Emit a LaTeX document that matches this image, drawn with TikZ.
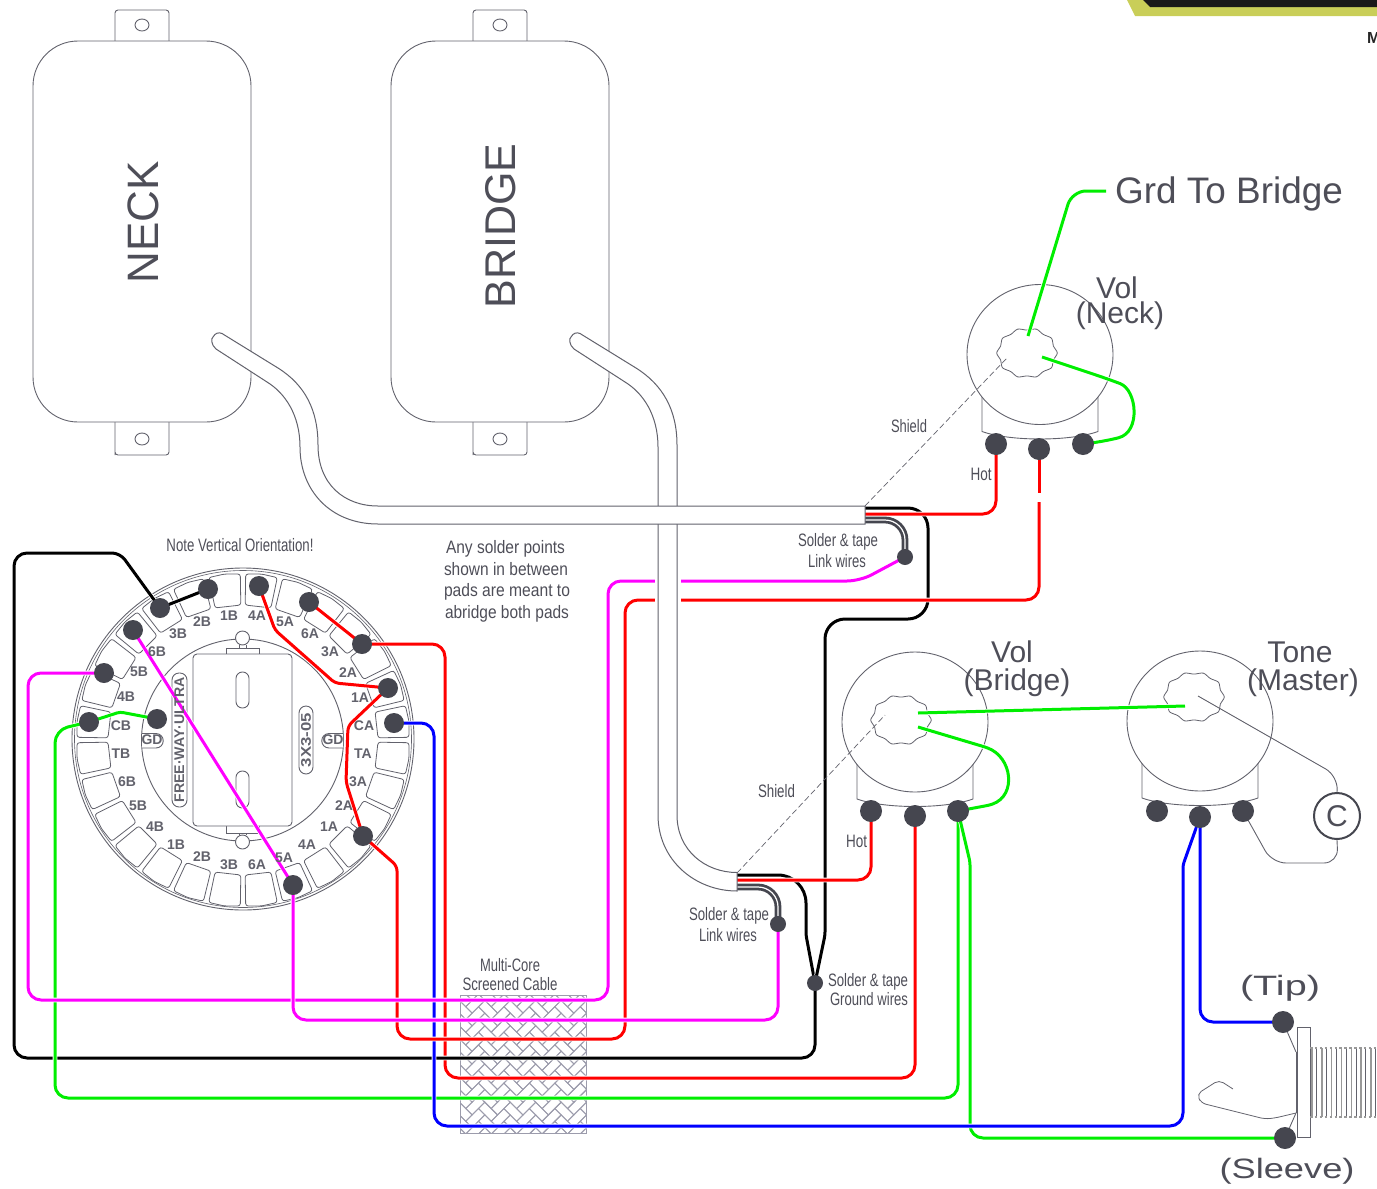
\documentclass[tikz,border=0pt]{standalone}
\usepackage{fontspec}
\setmainfont{Liberation Sans}
\pgfdeclarelayer{bg}\pgfdeclarelayer{cab}\pgfdeclarelayer{fg}
\pgfsetlayers{bg,main,cab,fg}
\definecolor{ink}{HTML}{45464F}
\definecolor{txt}{HTML}{4E4E58}
\definecolor{lne}{HTML}{62626C}
\definecolor{hat}{HTML}{9C9CAC}
\definecolor{mag}{HTML}{FF00FF}
\definecolor{grn}{HTML}{00EE00}
\definecolor{blu}{HTML}{0000FF}
\definecolor{redw}{HTML}{FF0000}
\definecolor{oliv}{HTML}{C9CE58}
\newcommand\fsz[1]{\fontsize{#1}{#1}\selectfont}
\newcommand\fitw[2]{\resizebox{#1pt}{\height}{#2}}
\tikzset{
  dotn/.style={circle,fill=ink,inner sep=0pt,minimum size=22pt},
  dotsw/.style={circle,fill=ink,inner sep=0pt,minimum size=20pt},
  dotsm/.style={circle,fill=ink,inner sep=0pt,minimum size=16pt},
  wire/.style={line width=3pt,rounded corners=13pt,line join=round,preaction={draw=white,line width=4.6pt,rounded corners=13pt}},
  outl/.style={draw=lne,line width=0.9pt},
  cableb/.style={draw=lne,fill=white,line width=1pt},
  linkw/.style={draw=ink,line width=2.8pt,double=white,double distance=1.2pt,rounded corners=20pt},
  thinw/.style={draw=lne,line width=0.9pt,rounded corners=14pt},
  shieldw/.style={draw=lne,line width=0.7pt,dash pattern=on 6pt off 3pt},
  lab/.style={text=txt,inner sep=0pt,font=\fsz{18}},
  big/.style={text=txt,inner sep=0pt,font=\fsz{30}},
  sw/.style={text=lne,inner sep=0pt,font=\fsz{14}\bfseries},
  padn/.style={draw=lne,line width=0.8pt,rounded corners=2.5pt},
}
\newcommand\blob[2]{\draw[draw=lne,line width=0.8pt,fill=white] plot[smooth cycle,domain=0:342,samples=20] ({#1+29*cos(\x)*(1+0.045*cos(10*\x))},{#2+24*sin(\x)*(1+0.045*cos(10*\x))});}
\newcommand\potbody[2]{%
  \draw[outl] (#1-58,#2+40) -- (#1-58,#2+77) .. controls (#1-30,#2+87) and (#1+30,#2+87) .. (#1+58,#2+77) -- (#1+58,#2+40);
  \draw[outl,fill=white] (#1,#2) ellipse[x radius=73,y radius=70];}
\begin{document}
\begin{tikzpicture}[x=1pt,y=-1pt]
\useasboundingbox (0,0) rectangle (1377,1189);

% ---------- named ends
\coordinate (cnB) at (865,508);
\coordinate (cnR) at (865,514);
\coordinate (cnL) at (865,520);
\coordinate (cbB) at (737,875);
\coordinate (cbR) at (737,880);
\coordinate (cbL) at (737,887);
\coordinate (grd) at (1106,191);
\coordinate (neckwA) at (1028,336);
\coordinate (neckwB) at (1042,357);
\coordinate (brwA) at (918,713);
\coordinate (brwB) at (918,727);
\coordinate (tonewA) at (1185,706);
\coordinate (tonewB) at (1198,696);
\coordinate (shN) at (1008,357);
\coordinate (shB) at (885,715);
\coordinate (shNs) at (865,506);
\coordinate (shBs) at (737,873);

% ---------- dots
\begin{pgfonlayer}{fg}
\foreach \n/\x/\y in {s1/160/608,s2/208/589,s3/259/586,s4/309/602,s5/362/644,s6/388/688,s7/394/723,s8/363/836,s9/293/885,s10/133/630,s11/104/673,s12/89/722,s13/157/719}
  \node[dotsw] (\n) at (\x,\y) {};
\foreach \n/\x/\y in {nA/996/444,nB/1039/449,nC/1083/444,bA/871/811,bB/915/816,bC/958/811,tA/1157/811,tB/1200/817,tC/1243/811,jT/1283/1022,jS/1285/1138}
  \node[dotn] (\n) at (\x,\y) {};
\node[dotsm] (lnk1) at (905,557) {};
\node[dotsm] (lnk2) at (778,924) {};
\node[dotsm] (gnd) at (815,983) {};
\end{pgfonlayer}

% ---------- background drawing
\begin{pgfonlayer}{bg}
% logo fragment
\begin{scope}
\clip (0,0) rectangle (1377,1189);
\fill[oliv] (1127,0) -- (1135,16) -- (1377,16) -- (1377,0) -- cycle;
\fill[black!90] (1143,0) -- (1150,7) -- (1377,7) -- (1377,0) -- cycle;
\node[anchor=west,inner sep=0pt,font=\fsz{16}\bfseries,text=black!85] (logoM) at (1367,38) {M};
\end{scope}
% pickups
\foreach \px in {0,358}{
  \draw[outl,fill=white] (115+\px,41) -- (115+\px,14) [rounded corners=3pt] -- (115+\px,10) -- (169+\px,10) [sharp corners] -- (169+\px,41);
  \draw[outl,fill=white] (115+\px,422) -- (115+\px,455) [rounded corners=3pt] -- (115+\px,455) -- (169+\px,455) [sharp corners] -- (169+\px,422);
  \draw[outl] (142+\px,25) ellipse[x radius=7,y radius=6];
  \draw[outl] (142+\px,439) ellipse[x radius=7,y radius=6];
  \draw[outl,fill=white,rounded corners=45pt] (33+\px,41) rectangle (251+\px,422);
}
% switch
\draw[outl,fill=white] (243,739) circle[radius=171];
\draw[draw=lne,line width=0.6pt] (243,739) circle[radius=168.5];
\begin{scope}[shift={(243,740)}]
\foreach \k in {0,...,27}{
  \pgfmathsetmacro\a{6.43+12.857*\k}
  \pgfmathsetmacro\aL{\a-5.5}
  \pgfmathsetmacro\aR{\a+5.5}
  \draw[padn] (\aL:135) -- (\aL:166) -- (\a:167) -- (\aR:166) -- (\aR:135) -- cycle;
}
\end{scope}
\draw[outl] (242.5,740) circle[radius=101];
\draw[outl,fill=white] (242.5,638) circle[radius=7];
\draw[outl,fill=white] (242.5,842) circle[radius=7];
\draw[outl] (239,645) -- (239,648) (246,645) -- (246,648) (239,835) -- (239,833) (246,835) -- (246,833);
\draw[outl,fill=white] (226,654) -- (226,648) -- (259,648) -- (259,654);
\draw[outl,fill=white] (226,826) -- (226,833) -- (259,833) -- (259,826);
\draw[outl,fill=white,rounded corners=4pt] (193,654) rectangle (292,826);
\draw[outl,rounded corners=6.4pt] (236,672) rectangle (249,708);
\draw[outl,rounded corners=6.4pt] (236,771) rectangle (249,808);
\draw[outl,rounded corners=7pt] (172,673) rectangle (187,807);
\draw[outl,rounded corners=7pt] (299,706) rectangle (313,774);
\draw[outl,fill=white] (142,733.5) -- (156,733.5) arc[start angle=-90,end angle=90,radius=7.25] -- (142,748);
\draw[outl,fill=white] (343,733.5) -- (329,733.5) arc[start angle=270,end angle=90,radius=7.25] -- (343,748);
% pots
\potbody{1040}{354.5}
\potbody{915}{722}
\potbody{1200}{721}
\blob{1027}{353}
\blob{901}{720}
\blob{1194}{697}
% hatch
\begin{scope}
\clip (460,995) rectangle (586,1133);
\begin{scope}[shift={(523,1064)},x={(6.364pt,6.364pt)},y={(-6.364pt,6.364pt)}]
\foreach \i in {-8,...,8}{\foreach \j in {-4,...,4}{
  \pgfmathsetmacro\pa{\i-2*\j}
  \pgfmathsetmacro\pb{\i+2*\j}
  \draw[draw=hat,line width=0.9pt] (\pa,\pb) -- ++(2,0) -- ++(0,1) -- ++(-2,0) -- cycle;
  \draw[draw=hat,line width=0.9pt] (\pa+2,\pb-1) -- ++(1,0) -- ++(0,2) -- ++(-1,0) -- cycle;
}}
\end{scope}
\end{scope}
\draw[draw=hat,line width=1pt] (460,995) rectangle (586,1133);
% jack
\draw[outl,fill=white] (1297,1027) rectangle (1310,1137);
\foreach \k in {0,...,13}{
  \pgfmathsetmacro\tx{1312+4.9*\k}
  \ifodd\k \draw[draw=lne,line width=0.9pt] (\tx,1048) -- (\tx,1117);
  \else \draw[draw=gray!80,line width=1.4pt] (\tx,1048) -- (\tx,1117);\fi
}
\draw[draw=gray!80,line width=1.6pt,dash pattern=on 2.5pt off 2.4pt] (1310,1048) -- (1377,1048);
\draw[draw=gray!80,line width=1.6pt,dash pattern=on 2.5pt off 2.4pt] (1310,1117) -- (1377,1117);
\coordinate (jackL) at (1296,1052);
\coordinate (jackB) at (1296,1113);
\draw[outl] (jackL) -- (jackB);
\draw[outl] (jT) -- (jackL);
\draw[outl] (jS) -- (jackB);
\draw[draw=lne,line width=0.8pt,rounded corners=5pt] (1233,1089) -- (1219,1080) -- (1197,1094) -- (1201,1103) -- (1265,1119) -- (1275,1118) -- (jackB);
\end{pgfonlayer}

% ---------- wires
\draw[wire,draw=redw] (s5.center) -- (445,644) -- (445,1078) -- (915,1078) -- (bB.center);
\draw[wire,draw=black] (s1.center) -- (s2.center);
\draw[wire,draw=black] (s1.center) [rounded corners=8pt] -- (120,553) [rounded corners=13pt] -- (14,553) -- (14,1058) -- (815,1058) -- (gnd.center);
\draw[wire,draw=black] (gnd.center) [rounded corners=3pt] -- (806,935) [rounded corners=28pt] -- (806,875) -- (cbB);
\draw[wire,draw=black] (gnd.center) [rounded corners=3pt] -- (825,935) [rounded corners=20pt] -- (825,619) -- (928,619) -- (928,508) -- (cnB);
\draw[wire,draw=grn] (s12.center) [rounded corners=3pt] -- (120,712) -- (s13.center);
\draw[wire,draw=grn] (s12.center) -- (55,730) -- (55,1098) -- (958,1098) -- (bC.center);
\draw[wire,draw=grn] (bC.center) [rounded corners=3pt] -- (970,862) [rounded corners=13pt] -- (970,1138) -- (jS.center);
\draw[wire,draw=blu] (s7.center) -- (434,723) -- (434,1126) -- (1183,1126) [rounded corners=3pt] -- (1183,865) -- (tB.center);
\draw[wire,draw=blu] (tB.center) [rounded corners=13pt] -- (1200,1022) -- (jT.center);
\draw[wire,draw=redw] (s3.center) [rounded corners=4pt] -- (275,630) -- (335,683) -- (s6.center);
\draw[wire,draw=redw] (s4.center) -- (s5.center);
\draw[wire,draw=redw] (s6.center) [rounded corners=5pt] -- (348,726) -- (346,782) -- (s8.center) -- (397,866) [rounded corners=13pt] -- (397,1039) -- (625,1039) -- (625,600) -- (1039,600) -- (1039,502);
\coordinate (gapT) at (1039,493);
\draw[wire,draw=redw] (nB.center) -- (gapT);
\draw[wire,draw=redw] (cnR) -- (996,514) -- (nA.center);
\draw[wire,draw=redw] (cbR) -- (871,880) -- (bA.center);
\draw[wire,draw=mag] (s11.center) -- (28,673) -- (28,1000) -- (608,1000) -- (608,581) -- (860,581) [rounded corners=3pt] -- (lnk1.center);
\draw[wire,draw=mag] (s10.center) -- (s9.center);
\draw[wire,draw=mag] (s9.center) -- (293,1020) -- (778,1020) -- (lnk2.center);
\draw[wire,draw=grn] (brwA) -- (tonewA);
\draw[wire,draw=grn] (brwB) [rounded corners=3pt] -- (985,747) .. controls (1012,757) and (1017,795) .. (990,805) -- (bC.center);
\draw[wire,draw=grn] (grd) [rounded corners=14pt] -- (1072,191) [sharp corners] -- (neckwA);
\draw[wire,draw=grn] (neckwB) -- (1108,379) .. controls (1137,390) and (1141,432) .. (1106,441) -- (nC.center);
\draw[linkw] (cnL) -- (905,520) -- (lnk1.center);
\draw[linkw] (cbL) -- (778,887) -- (lnk2.center);
% white clearance where the wires pass behind the cable
\fill[white] (654.5,570) rectangle (680.5,610);

% ---------- thin wires
\draw[shieldw] (shNs) -- (shN);
\draw[shieldw] (shBs) -- (shB);
\node[circle,draw=ink,line width=2pt,fill=white,inner sep=0pt,minimum size=46pt,font=\fsz{30},text=txt] (capc) at (1337,816) {C};
\draw[thinw] (tonewB) -- (1338,776) -- (capc.north);
\draw[thinw] (capc.south) -- (1338,863) -- (1272,863) [rounded corners=4pt] -- (tC.center);

% ---------- cables
\begin{pgfonlayer}{cab}
\draw[cableb] (580,333.5) -- (636,368) .. controls (663,385) and (677,410) .. (677,445) -- (677,815) .. controls (677,850) and (705,872.5) .. (737,872.5) -- (737,891) .. controls (695,891) and (658,860) .. (658,815) -- (658,447) .. controls (658,415) and (643,393) .. (625,382) -- (574,349) .. controls (569,345) and (569,338) .. (571,337) .. controls (573,333) and (577,332) .. (580,333.5) -- cycle;
\draw[cableb] (222,333.5) -- (278,368) .. controls (305,385) and (318,410) .. (318,445) .. controls (318,485) and (345,506) .. (378,506) -- (865,506) -- (865,524) -- (378,524) .. controls (330,524) and (300,490) .. (300,447) .. controls (300,415) and (285,393) .. (267,382) -- (216,349) .. controls (211,345) and (211,338) .. (213,337) .. controls (215,333) and (219,332) .. (222,333.5) -- cycle;
\end{pgfonlayer}

% ---------- text
\begin{pgfonlayer}{fg}
\node[text=txt,inner sep=0pt,font=\fsz{44},rotate=90] (tneck) at (143,222) {NECK};
\node[text=txt,inner sep=0pt,font=\fsz{43},rotate=90] (tbridge) at (501,226) {BRIDGE};
\node[text=txt,inner sep=0pt,font=\fsz{36.9},anchor=west] (tgrd) at (1115,194) {Grd To Bridge};
\node[big] (v1) at (1117,288) {Vol};
\node[big] (v1b) at (1120,316) {(Neck)};
\node[big] (v2) at (1012,652) {Vol};
\node[big] (v2b) at (1017,683) {(Bridge)};
\node[big] (v3) at (1300,652) {Tone};
\node[big] (v3b) at (1303,683) {(Master)};
\node[lab] (a0) at (240,545) {\fitw{147}{Note Vertical Orientation!}};
\node[lab] (a1) at (505.5,549) {\fitw{119}{Any solder points}};
\node[lab] (a2) at (506,569) {\fitw{124}{shown in between}};
\node[lab] (a3) at (507,592) {\fitw{126}{pads are meant to}};
\node[lab] (a4) at (507,614) {\fitw{124}{abridge both pads}};
\node[lab] (b1) at (838,542) {\fitw{80}{Solder \& tape}};
\node[lab] (b2) at (837,561) {\fitw{58}{Link wires}};
\node[lab] (b3) at (729,916) {\fitw{80}{Solder \& tape}};
\node[lab] (b4) at (728,935) {\fitw{58}{Link wires}};
\node[lab] (b5) at (868,982) {\fitw{80}{Solder \& tape}};
\node[lab] (b6) at (869,999) {\fitw{78}{Ground wires}};
\node[lab] (b7) at (510,965) {\fitw{60}{Multi-Core}};
\node[lab] (b8) at (510,984) {\fitw{95}{Screened Cable}};
\node[lab] (c1) at (909,426) {\fitw{36}{Shield}};
\node[lab] (c2) at (981,474) {\fitw{21}{Hot}};
\node[lab] (c3) at (776.5,791) {\fitw{37}{Shield}};
\node[lab] (c4) at (856.5,841) {\fitw{21}{Hot}};
\node[text=txt,inner sep=0pt,font=\fsz{28}] (tip) at (1280,988) {\fitw{80}{(Tip)}};
\node[text=txt,inner sep=0pt,font=\fsz{28}] (slv) at (1287,1171) {\fitw{135}{(Sleeve)}};
\foreach \t/\x/\y in {CB/121/726,4B/126/697,5B/139/672,6B/157/652,3B/178/634,2B/202/622,1B/229/616,4A/257/616,5A/285/622,6A/310/634,3A/330/652,2A/348/673,1A/360/698,CA/364/726,TA/363/754,3A/358/782,2A/344/806,1A/329/827,4A/307/845,5A/284/858,6A/257/865,3B/229/865,2B/202/857,1B/176/845,4B/155/827,5B/138/806,6B/127/782,TB/121/754,GD/152/740,GD/333/740}
  \node[sw] at (\x,\y) {\t};
\node[sw,rotate=90] (fw) at (179.5,740) {\fitw{125}{FREE·WAY·ULTRA}};
\node[sw,rotate=90] (x3) at (306,740) {\fitw{54}{3X3-05}};
\end{pgfonlayer}
\end{tikzpicture}
\end{document}
